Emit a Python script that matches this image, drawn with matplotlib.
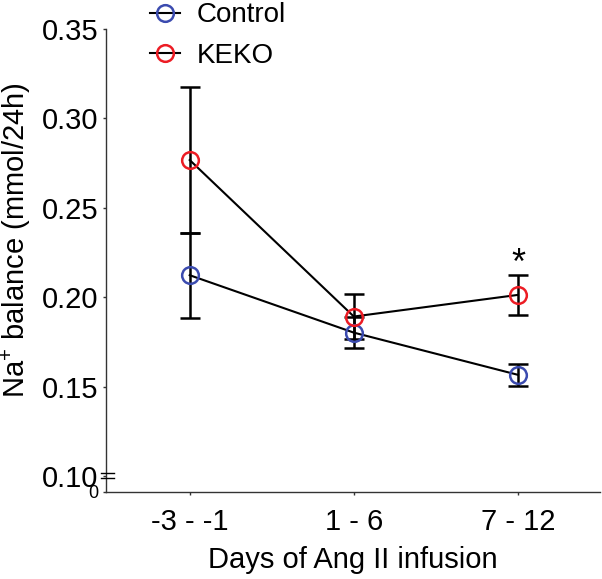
import numpy as np
import matplotlib
matplotlib.use("Agg")
import matplotlib.pyplot as plt

plt.rcParams['font.family'] = ['Liberation Sans', 'DejaVu Sans']
plt.rcParams['mathtext.fontset'] = 'custom'
plt.rcParams['mathtext.rm'] = 'Liberation Sans'
plt.rcParams['mathtext.it'] = 'Liberation Sans:italic'

# data
days = ['-3 - -1', '1 - 6', '7 - 12']
control_mean = [0.2123, 0.1802, 0.1566]
control_sem = [0.0237, 0.0087, 0.0061]
keko_mean = [0.2767, 0.1892, 0.2013]
keko_sem = [0.0407, 0.0127, 0.0112]
yticks = [0.10, 0.15, 0.20, 0.25, 0.30, 0.35]

blue = '#3B4BAF'
red = '#EC1C24'

fig = plt.figure(figsize=(6.02, 5.79), dpi=100)
ax = fig.add_axes([0.1761, 0.1503, 0.8206, 0.7997])

x = np.arange(len(days))
ybot = 0.0911

for mean, sem, col, lab in [(control_mean, control_sem, blue, 'Control'),
                            (keko_mean, keko_sem, red, 'KEKO')]:
    ax.errorbar(x, mean, yerr=sem, fmt='none', ecolor='black', elinewidth=1.8,
                capsize=7, capthick=1.8, zorder=2)
    ax.plot(x, mean, color='black', lw=1.5, marker='o', markersize=12,
            markerfacecolor='none', markeredgecolor=col, markeredgewidth=1.8,
            label=lab, zorder=3)

# significance star
ax.text(2, keko_mean[2] + keko_sem[2] + 0.0005, '*', ha='center', va='baseline', fontsize=26)

ax.set_xlim(-0.51, 2.5)
ax.set_ylim(ybot, 0.35)
ax.set_xticks(x)
ax.set_xticklabels(days, fontsize=21)
ax.set_yticks([ybot] + yticks)
ax.set_yticklabels(['0'] + ['%.2f' % t for t in yticks], fontsize=21)
ax.get_yticklabels()[0].set_fontsize(13)

ax.spines['top'].set_visible(False)
ax.spines['right'].set_visible(False)
for s in ['left', 'bottom']:
    ax.spines[s].set_linewidth(1.0)
    ax.spines[s].set_color('#333333')
ax.tick_params(axis='y', length=2.5, width=1.0, pad=3, color='#333333')
ax.tick_params(axis='x', length=2.5, width=1.0, pad=9, color='#333333')

# axis break mark
for yb in [0.1018, 0.0990]:
    ax.plot([-0.010, 0.017], [yb, yb], color='black', lw=1.0,
            transform=ax.get_yaxis_transform(), clip_on=False, zorder=5)

ax.set_xlabel('Days of Ang II infusion', fontsize=21, labelpad=7)
ax.set_ylabel('Na$^{+}$ balance (mmol/24h)', fontsize=21)
ax.yaxis.set_label_coords(-0.148, 0.544)

ax.legend(loc='upper left', bbox_to_anchor=(0.249, 0.996), bbox_transform=fig.transFigure,
          frameon=False, fontsize=20, handlelength=1.1, handletextpad=0.6,
          labelspacing=0.53, borderpad=0, borderaxespad=0)

fig.savefig('out.png', dpi=100)
